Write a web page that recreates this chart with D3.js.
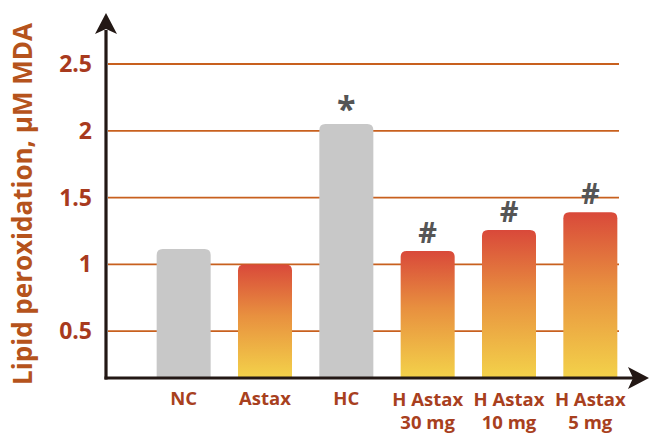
<!DOCTYPE html>
<html><head><meta charset="utf-8">
<script src="https://cdn.jsdelivr.net/npm/d3@7"></script>
<style>body{margin:0;background:#fff}svg{display:block}</style>
</head><body>
<svg id="c" width="652" height="436"></svg>
<script>
const categories = ["NC", "Astax", "HC", "H Astax|30 mg", "H Astax|10 mg", "H Astax|5 mg"];
const values = [1.115, 1.0, 2.05, 1.10, 1.257, 1.39];
const barKind = ["gray", "grad", "gray", "grad", "grad", "grad"];
const marks = ["", "", "*", "#", "#", "#"];
const yTicks = [0.5, 1, 1.5, 2, 2.5];
const yTickLabels = ["0.5", "1", "1.5", "2", "2.5"];

const svg = d3.select("#c");
const font = "'Open Sans', 'DejaVu Sans', sans-serif";
const y = d3.scaleLinear().domain([0, 2.5]).range([398, 64]);
const x = d3.scaleBand().domain(categories).range([143, 631]).paddingInner(0.336).paddingOuter(0.168);
const axisY = 378;

const defs = svg.append("defs");
const g = defs.append("linearGradient").attr("id", "gr").attr("x1", 0).attr("y1", 0).attr("x2", 0).attr("y2", 1);
g.append("stop").attr("offset", "0%").attr("stop-color", "#d9493a");
g.append("stop").attr("offset", "45%").attr("stop-color", "#e8903f");
g.append("stop").attr("offset", "100%").attr("stop-color", "#f3d24a");

// gridlines
svg.append("g").selectAll("line").data(yTicks).join("line")
  .attr("x1", 108).attr("x2", 619)
  .attr("y1", d => y(d)).attr("y2", d => y(d))
  .attr("stroke", "#c8601e").attr("stroke-width", 1.8);

// bars
const r = 6;
svg.append("g").selectAll("path").data(categories).join("path")
  .attr("d", (c, i) => {
    const x0 = x(c), w = x.bandwidth(), t = y(values[i]), b = axisY;
    return `M${x0},${b}V${t + r}Q${x0},${t} ${x0 + r},${t}H${x0 + w - r}Q${x0 + w},${t} ${x0 + w},${t + r}V${b}Z`;
  })
  .attr("fill", (c, i) => barKind[i] === "gray" ? "#c8c8c8" : "url(#gr)");

// significance marks
svg.append("g").selectAll("text").data(categories).join("text")
  .attr("x", c => x(c) + x.bandwidth() / 2)
  .attr("y", (c, i) => y(values[i]) - (marks[i] === "*" ? 3 : 8))
  .attr("text-anchor", "middle")
  .attr("font-family", font).attr("font-weight", "bold")
  .attr("font-size", (c, i) => marks[i] === "*" ? 34 : 29)
  .attr("fill", "#555")
  .text((c, i) => marks[i]);

// axes
const axisColor = "#231815";
svg.append("line").attr("x1", 106).attr("x2", 106).attr("y1", 30).attr("y2", axisY + 1.5)
  .attr("stroke", axisColor).attr("stroke-width", 3.2);
svg.append("path").attr("d", "M106,13L117,34L106,29L95,34Z").attr("fill", axisColor);
svg.append("line").attr("x1", 104.5).attr("x2", 635).attr("y1", axisY).attr("y2", axisY)
  .attr("stroke", axisColor).attr("stroke-width", 3.2);
svg.append("path").attr("d", "M649,378L628,367L633,378L628,389Z").attr("fill", axisColor);

// y tick labels
svg.append("g").selectAll("text").data(yTicks).join("text")
  .attr("x", 92).attr("y", d => y(d) + 8)
  .attr("text-anchor", "end")
  .attr("font-family", font).attr("font-weight", "bold").attr("font-size", 23)
  .attr("fill", "#a83a1e")
  .text((d, i) => yTickLabels[i]);

// x labels (one text element per line)
const lbl = svg.append("g");
categories.forEach(c => {
  const parts = c.split("|");
  const cx = x(c) + x.bandwidth() / 2;
  const y0 = parts.length === 1 ? 405 : 406;
  parts.forEach((p, j) => lbl.append("text")
    .attr("x", cx).attr("y", y0 + j * 23)
    .attr("text-anchor", "middle")
    .attr("font-family", font).attr("font-weight", "bold").attr("font-size", 18.5)
    .attr("fill", "#a8401e")
    .text(p));
});

// y title
svg.append("text")
  .attr("transform", "translate(32,204) rotate(-90)")
  .attr("text-anchor", "middle")
  .attr("font-family", font).attr("font-weight", "bold").attr("font-size", 26)
  .attr("fill", "#b5531c")
  .text("Lipid peroxidation, µM MDA");
</script>
</body></html>
